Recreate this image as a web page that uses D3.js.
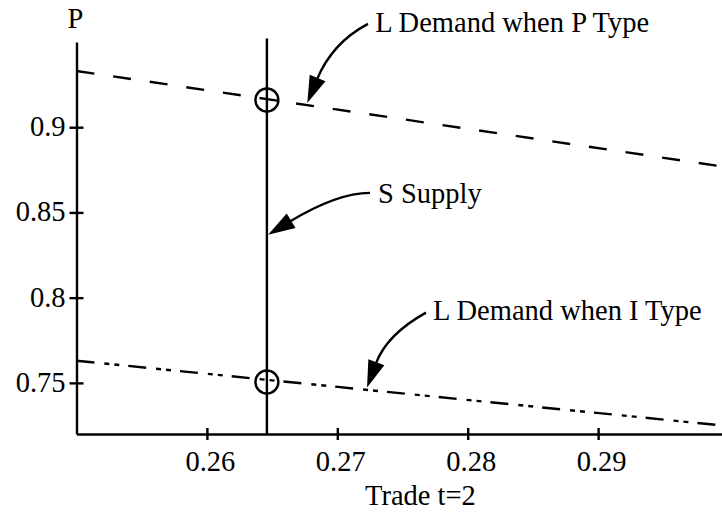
<!DOCTYPE html>
<html>
<head>
<meta charset="utf-8">
<script src="https://cdn.jsdelivr.net/npm/d3@7"></script>
<style>
body { margin: 0; background: #fff; }
</style>
</head>
<body>
<div id="chart"></div>
<script>
// values
var trade = [0.25, 0.2995];
var demandP = [0.933, 0.877];
var demandI = [0.763, 0.725];
var supplyTrade = 0.2646;
var supplyP = [0.72, 0.952];
var equilibriumP = [0.916, 0.7505];
var xTicks = [0.26, 0.27, 0.28, 0.29];
var yTicks = [0.75, 0.8, 0.85, 0.9];

// annotations (data units)
var noteText = ["L Demand when P Type", "S Supply", "L Demand when I Type"];
var noteAt = [[0.2729, 0.9559], [0.27312, 0.8556], [0.27734, 0.7871]];
var arrowFrom = [[0.27235, 0.9606], [0.27251, 0.8615], [0.2768, 0.7912]];
var arrowBend = [[0.26959, 0.9494], [0.26998, 0.8615], [0.27377, 0.77831]];
var arrowTo = [[0.2677, 0.9142], [0.26469, 0.8369], [0.27228, 0.74724]];

var W = 722, H = 512;
var margin = {top: 42, right: 0, bottom: 78, left: 76.5};
var font = "'Liberation Serif', 'Times New Roman', Times, serif";
var fs = 28.5;

var svg = d3.select("#chart").append("svg")
  .attr("width", W)
  .attr("height", H)
  .style("font-family", font);

var x = d3.scaleLinear()
  .domain([0.25, 0.2995])
  .range([margin.left, W - margin.right]);

var y = d3.scaleLinear()
  .domain([0.72, 0.95])
  .range([H - margin.bottom, margin.top]);

var lw = 2.4;

// x axis
var gx = svg.append("g")
  .attr("transform", "translate(0," + y(0.72) + ")")
  .call(d3.axisBottom(x).tickValues(xTicks).tickSize(6).tickSizeOuter(0).tickPadding(11).tickFormat(d3.format("")));
gx.selectAll(".tick line").attr("y1", -6).attr("y2", 6).attr("stroke-width", lw);
gx.select(".domain").attr("stroke-width", lw);
gx.selectAll("text").attr("dx", 3);

// y axis
var gy = svg.append("g")
  .attr("transform", "translate(" + x(0.25) + ",0)")
  .call(d3.axisLeft(y).tickValues(yTicks).tickSize(6).tickSizeOuter(0).tickPadding(5).tickFormat(d3.format("")));
gy.selectAll(".tick line").attr("x1", -7).attr("x2", 7).attr("stroke-width", lw);
gy.select(".domain").attr("stroke-width", lw);
gy.selectAll("text").attr("dy", "0.3em");

svg.selectAll(".tick text")
  .attr("font-size", fs)
  .style("font-family", font)
  .style("fill", "#000");

// axis titles
svg.append("text")
  .attr("x", x(0.25) - 1)
  .attr("y", 28)
  .attr("text-anchor", "middle")
  .attr("font-size", fs)
  .style("font-family", font)
  .text("P");

svg.append("text")
  .attr("x", 365)
  .attr("y", 505)
  .attr("font-size", fs)
  .style("font-family", font)
  .text("Trade t=2");

var line = d3.line()
  .x(function(d) { return x(d[0]); })
  .y(function(d) { return y(d[1]); });

// demand lines
svg.append("path")
  .datum(trade.map(function(t, i) { return [t, demandP[i]]; }))
  .attr("d", line)
  .attr("fill", "none")
  .attr("stroke", "#000")
  .attr("stroke-width", lw)
  .attr("stroke-dasharray", "18,19");

svg.append("path")
  .datum(trade.map(function(t, i) { return [t, demandI[i]]; }))
  .attr("d", line)
  .attr("fill", "none")
  .attr("stroke", "#000")
  .attr("stroke-width", lw)
  .attr("stroke-dasharray", "18,10,5,5,5,9");

// supply
svg.append("path")
  .datum(supplyP.map(function(p) { return [supplyTrade, p]; }))
  .attr("d", line)
  .attr("fill", "none")
  .attr("stroke", "#000")
  .attr("stroke-width", lw);

// equilibria
svg.selectAll(".eq")
  .data(equilibriumP)
  .enter()
  .append("circle")
  .attr("cx", x(supplyTrade))
  .attr("cy", function(d) { return y(d); })
  .attr("r", 11.5)
  .attr("fill", "none")
  .attr("stroke", "#000")
  .attr("stroke-width", lw);

// labels and curved arrows
noteText.forEach(function(t, i) {
  svg.append("text")
    .attr("x", x(noteAt[i][0]))
    .attr("y", y(noteAt[i][1]))
    .attr("font-size", fs)
    .style("font-family", font)
    .text(t);

  var s = [x(arrowFrom[i][0]), y(arrowFrom[i][1])];
  var c = [x(arrowBend[i][0]), y(arrowBend[i][1])];
  var e = [x(arrowTo[i][0]), y(arrowTo[i][1])];
  var dx = e[0] - c[0], dy = e[1] - c[1];
  var len = Math.sqrt(dx * dx + dy * dy);
  var ux = dx / len, uy = dy / len;
  var hl = 27, hw = 8.5;
  var b = [e[0] - ux * hl, e[1] - uy * hl];

  svg.append("path")
    .attr("d", "M" + s[0] + "," + s[1] + "Q" + c[0] + "," + c[1] + " " + (b[0] + ux * 2) + "," + (b[1] + uy * 2))
    .attr("fill", "none")
    .attr("stroke", "#000")
    .attr("stroke-width", lw);

  svg.append("path")
    .attr("d", "M" + e[0] + "," + e[1] +
      "L" + (b[0] - uy * hw) + "," + (b[1] + ux * hw) +
      "L" + (b[0] + uy * hw) + "," + (b[1] - ux * hw) + "Z")
    .attr("fill", "#000");
});
</script>
</body>
</html>
